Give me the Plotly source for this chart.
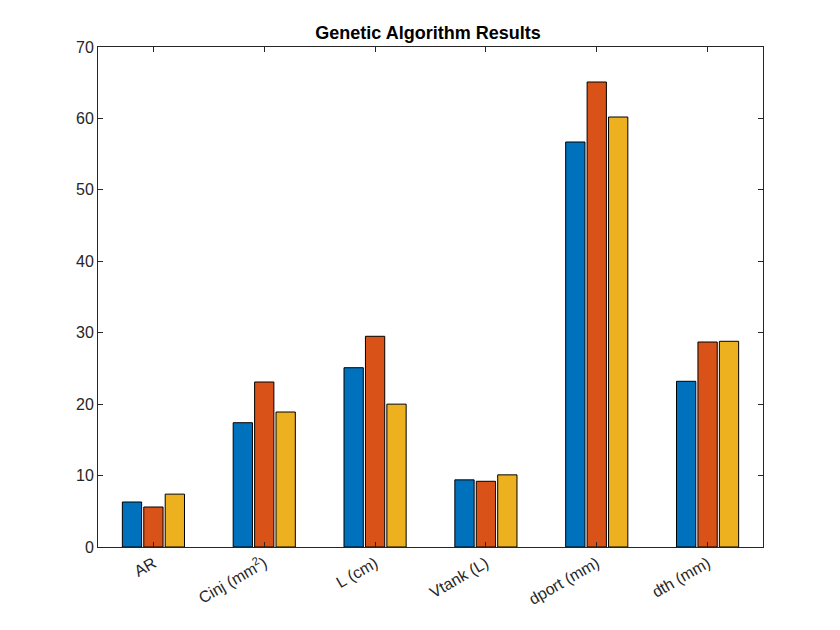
import plotly.graph_objects as go

categories = ["AR", "Cinj (mm<sup>2</sup>)", "L (cm)", "Vtank (L)", "dport (mm)", "dth (mm)"]
series1 = [6.3, 17.4, 25.1, 9.4, 56.7, 23.2]
series2 = [5.6, 23.1, 29.5, 9.2, 65.1, 28.7]
series3 = [7.4, 18.9, 20.0, 10.1, 60.2, 28.8]
colors = ["#0072BD", "#D95319", "#EDB120"]

fig = go.Figure()
for i, s in enumerate([series1, series2, series3]):
    fig.add_trace(go.Bar(x=categories, y=s, marker=dict(color=colors[i], line=dict(color="black", width=1)), showlegend=False))

axis_common = dict(showline=True, linecolor="#262626", linewidth=1, mirror="ticks", ticks="inside",
                   ticklen=5, tickcolor="#262626", showgrid=False, zeroline=False,
                   tickfont=dict(family="Liberation Sans, Arial", size=16, color="#262626"))
fig.update_layout(
    width=840, height=630, plot_bgcolor="white", paper_bgcolor="white",
    margin=dict(l=90, r=85, t=39, b=91),
    barmode="group", bargap=0.42, bargroupgap=0.1,
    title=dict(text="<b>Genetic Algorithm Results</b>", x=0.5, xanchor="center", y=1 - 25/630, yanchor="middle",
               font=dict(family="Liberation Sans, Arial", size=18, color="black")),
    xaxis=dict(**axis_common, tickangle=-30),
    yaxis=dict(**axis_common, range=[0, 70], dtick=10),
)
fig.write_html("out.html")
